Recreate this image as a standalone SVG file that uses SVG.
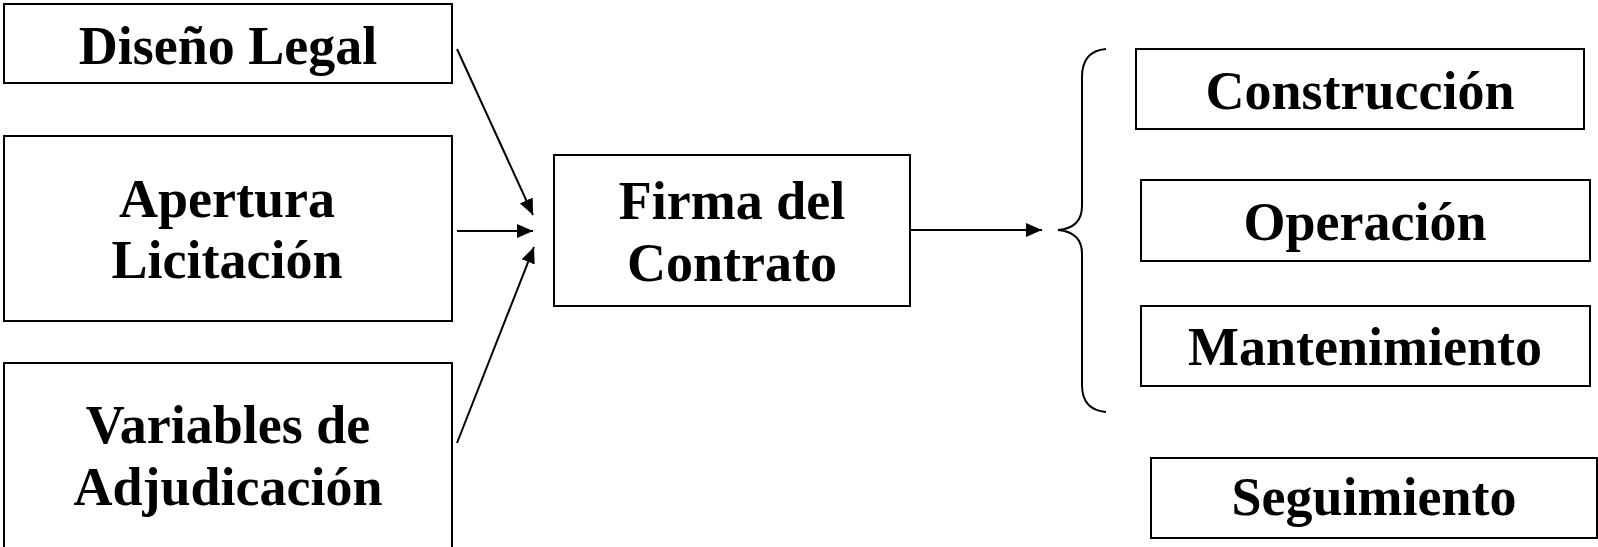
<svg xmlns="http://www.w3.org/2000/svg" width="1598" height="547" viewBox="0 0 1598 547">
<style>
.box{fill:#fff;stroke:#000;stroke-width:2}
.lbl{font-family:"Liberation Serif","Times New Roman",serif;font-weight:bold;font-size:54px;fill:#000;text-anchor:middle}
.con{stroke:#000;stroke-width:2;fill:none}
</style>
<defs>
<marker id="ah" markerUnits="userSpaceOnUse" markerWidth="18" markerHeight="14" refX="16" refY="7" orient="auto">
<path d="M0,0 L16,7 L0,14 Z" fill="#000"/>
</marker>
</defs>
<rect width="1598" height="547" fill="#fff"/>
<g id="n-diseno"><rect class="box" x="4" y="4" width="448" height="79"/><text class="lbl" x="228" y="64">Diseño Legal</text></g>
<g id="n-apertura"><rect class="box" x="4" y="136" width="448" height="185"/><text class="lbl" x="227" y="217">Apertura</text><text class="lbl" x="227" y="278">Licitación</text></g>
<g id="n-variables"><rect class="box" x="4" y="363" width="448" height="200"/><text class="lbl" x="228" y="443">Variables de</text><text class="lbl" x="228" y="505">Adjudicación</text></g>
<g id="n-firma"><rect class="box" x="554" y="155" width="356" height="151"/><text class="lbl" x="732" y="219">Firma del</text><text class="lbl" x="732" y="281">Contrato</text></g>
<g id="n-construccion"><rect class="box" x="1136" y="49" width="448" height="80"/><text class="lbl" x="1360" y="109">Construcción</text></g>
<g id="n-operacion"><rect class="box" x="1141" y="180" width="449" height="81"/><text class="lbl" x="1365" y="240">Operación</text></g>
<g id="n-mantenimiento"><rect class="box" x="1141" y="306" width="449" height="80"/><text class="lbl" x="1365" y="365">Mantenimiento</text></g>
<g id="n-seguimiento"><rect class="box" x="1151" y="458" width="446" height="80"/><text class="lbl" x="1374" y="515">Seguimiento</text></g>
<g id="connectors">
<line class="con" x1="457" y1="49" x2="533" y2="215" marker-end="url(#ah)"/>
<line class="con" x1="457" y1="231" x2="533" y2="231" marker-end="url(#ah)"/>
<line class="con" x1="457" y1="443" x2="534" y2="247" marker-end="url(#ah)"/>
<line class="con" x1="910" y1="230" x2="1042" y2="230" marker-end="url(#ah)"/>
<path class="con" d="M1106,49 Q1082,51 1082,77 L1082,206 Q1082,228 1058,230 Q1082,232 1082,254 L1082,385 Q1082,410 1106,412"/>
</g>
</svg>
